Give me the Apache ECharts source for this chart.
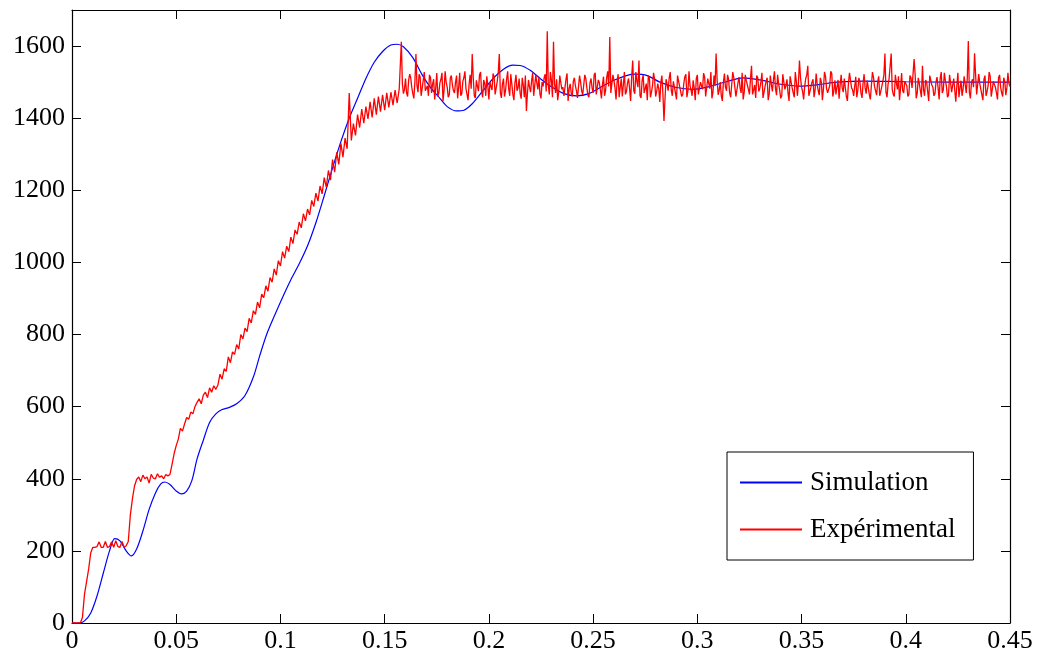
<!DOCTYPE html>
<html>
<head>
<meta charset="utf-8">
<script src="https://cdn.jsdelivr.net/npm/echarts@6/dist/echarts.min.js"></script>
<style>
html,body{margin:0;padding:0;background:#fff;}
#chart{width:1047px;height:658px;}
</style>
</head>
<body>
<div id="chart"></div>
<script>
// ---- Data ----
const xTicks = ['0','0.05','0.1','0.15','0.2','0.25','0.3','0.35','0.4','0.45'];
const yTicks = ['0','200','400','600','800','1000','1200','1400','1600'];

// Simulation (blue) : time [s] and speed
const simT = [0,0.0035,0.006,0.009,0.012,0.015,0.018,0.0205,0.023,0.026,0.0285,0.031,0.034,0.037,0.040,0.0425,0.0445,0.047,0.050,0.0525,0.055,0.0575,0.060,0.063,0.066,0.069,0.072,0.0755,0.079,0.083,0.087,0.090,0.0935,0.0975,0.101,0.105,0.109,0.113,0.117,0.121,0.125,0.129,0.133,0.137,0.141,0.145,0.149,0.153,0.156,0.159,0.1635,0.168,0.172,0.1765,0.180,0.1845,0.188,0.192,0.197,0.202,0.207,0.2115,0.215,0.220,0.225,0.230,0.236,0.242,0.248,0.254,0.260,0.266,0.270,0.276,0.282,0.290,0.298,0.306,0.315,0.322,0.330,0.340,0.349,0.358,0.367,0.380,0.400,0.420,0.450];
const simV = [0,0,6,28,75,138,200,234,228,200,186,205,255,315,360,385,391,384,366,358,366,395,455,507,556,580,592,598,608,631,682,740,802,857,903,952,996,1046,1110,1185,1262,1335,1400,1455,1510,1555,1585,1603,1605,1598,1568,1520,1485,1455,1432,1420,1422,1440,1475,1510,1536,1547,1546,1532,1508,1487,1468,1462,1468,1487,1505,1518,1522,1518,1500,1485,1480,1488,1503,1512,1506,1494,1489,1493,1500,1503,1501,1500,1500];

// Experimental (red) : sampled every 1 ms from t = 0
const expStart = 0;
const expStep = 0.001;
const expV = [
0,0,0,0,0,15,80,115,150,195,
210,210,212,225,210,210,226,210,212,225,
210,228,212,210,226,210,214,226,300,345,
380,398,405,392,410,400,405,388,412,402,
400,414,404,408,400,412,408,412,440,470,
492,510,540,532,552,570,565,585,580,600,
612,622,608,632,640,625,652,640,658,648,
660,690,676,705,698,738,722,752,745,772,
760,800,788,818,808,845,832,866,856,890,
874,912,902,935,920,958,945,982,965,1005,
990,1030,1012,1045,1030,1070,1052,1090,1078,1112,
1096,1135,1115,1148,1132,1172,1155,1192,1170,1212,
1190,1235,1208,1255,1228,1285,1250,1305,1272,1330,
1292,1345,1315,1470,1338,1385,1352,1410,1374,1425,
1386,1432,1398,1445,1402,1455,1410,1460,1418,1465,
1422,1470,1430,1472,1436,1478,1442,1482,1612,1468,
1510,1460,1522,1486,1455,1578,1472,1515,1458,1528,
1480,1462,1512,1495,1452,1525,1470,1508,1448,1530,
1486,1465,1518,1476,1500,1455,1526,1468,1512,1482,
1450,1520,1578,1462,1505,1475,1528,1458,1496,1516,
1452,1488,1524,1466,1502,1578,1456,1510,1478,1530,
1462,1495,1450,1520,1484,1468,1512,1458,1420,1506,
1472,1526,1460,1498,1515,1455,1488,1522,1641,1466,
1505,1612,1470,1450,1518,1480,1462,1508,1448,1495,
1460,1512,1476,1452,1500,1465,1520,1484,1458,1510,
1470,1526,1462,1498,1455,1515,1478,1530,1625,1466,
1505,1452,1522,1486,1460,1528,1474,1510,1448,1560,
1468,1502,1560,1456,1520,1482,1450,1512,1472,1526,
1460,1496,1445,1518,1392,1508,1476,1528,1462,1500,
1452,1522,1484,1466,1515,1458,1530,1478,1505,1450,
1520,1470,1496,1525,1460,1510,1482,1455,1518,1579,
1465,1500,1448,1524,1476,1508,1458,1528,1486,1462,
1514,1470,1452,1520,1492,1466,1545,1478,1456,1512,
1484,1526,1460,1502,1450,1518,1474,1530,1464,1496,
1455,1522,1480,1508,1448,1515,1470,1528,1462,1560,
1486,1452,1510,1545,1466,1500,1458,1524,1476,1512,
1450,1528,1482,1468,1530,1460,1505,1486,1454,1520,
1472,1512,1448,1526,1484,1462,1515,1478,1500,1456,
1522,1468,1508,1452,1528,1488,1464,1516,1474,1502,
1579,1458,1510,1579,1466,1520,1480,1450,1525,1470,
1506,1460,1518,1484,1564,1455,1512,1476,1545,1462,
1500,1448,1522,1486,1468,1514,1452,1528,1478,1504,
1458,1520,1472,1510,1446,1526,1484,1462,1516,1470,
1614,1455,1508,1580,1466,1522,1480,1450,1518,1474,
1528,1460,1502,1486,1452,1520,1470,1512,1464,1526,
1488
];

// Experimental (red) : extra half-millisecond samples from t = 0.1585 s onward
const expMidStartIndex = 158;
const expMid = [
1495,1480,1470,1505,1512,1468,1500,1490,1522,1462,
1505,1476,1490,1520,1470,1508,1484,1460,1498,1526,
1478,1500,1458,1512,1492,1470,1518,1486,1462,1502,
1530,1466,1494,1482,1512,1456,1488,1520,1474,1506,
1462,1490,1500,1478,1516,1484,1528,1470,1495,1460,
1508,1482,1522,1466,1498,1476,1510,1454,1492,1518,
1470,1486,1504,1462,1520,1480,1466,1500,1512,1474,
1490,1528,1458,1496,1508,1472,1516,1486,1460,1524,
1482,1470,1502,1490,1456,1518,1476,1492,1510,1464,
1498,1484,1520,1466,1506,1478,1494,1462,1512,1488,
1470,1520,1484,1500,1458,1510,1492,1466,1498,1482,
1515,1476,1528,1486,1462,1504,1470,1496,1518,1458,
1490,1508,1474,1482,1500,1466,1455,1494,1512,1478,
1502,1470,1518,1488,1460,1496,1522,1476,1490,1462,
1484,1510,1466,1500,1480,1514,1458,1496,1528,1472,
1490,1506,1478,1462,1500,1486,1520,1470,1494,1512,
1460,1498,1484,1526,1472,1504,1480,1510,1466,1492,
1518,1474,1500,1456,1488,1512,1468,1494,1506,1482,
1520,1478,1462,1500,1490,1470,1516,1484,1458,1502,
1496,1512,1474,1488,1520,1462,1486,1508,1478,1494,
1464,1500,1482,1516,1470,1490,1524,1476,1466,1506,
1492,1484,1510,1460,1498,1522,1478,1488,1458,1512,
1470,1496,1484,1504,1466,1490,1514,1476,1500,1462,
1488,1520,1472,1494,1508,1480,1460,1498,1516,1484,
1476,1502,1490,1466,1512,1486,1520,1470,1496,1458,
1480,1506,1474,1518,1492,1462,1500,1484,1510,1470,
1526,1488,1464,1498,1476,1514,1490,1458,1504,1482,
1494,1510,1472,1500,1486,1520,1466,1496,1478,1508,
1462,1490,1516,1480,1498,1470,1512,1486,1460,1502,
1484,1496
];

const seriesNames = ['Simulation', 'Expérimental'];
const seriesColors = ['#0000ff', '#ff0000'];

// ---- Build ----
const simData = simT.map((t, i) => [t, simV[i]]);
const expData = [];
expV.forEach((v, i) => {
  expData.push([+(expStart + i * expStep).toFixed(5), v]);
  const m = i - expMidStartIndex;
  if (m >= 0 && m < expMid.length) {
    expData.push([+(expStart + (i + 0.5) * expStep).toFixed(5), expMid[m]]);
  }
});

const FONT = 'Liberation Serif';
const axisCommon = {
  min: 0,
  axisLine: { show: true, onZero: false, lineStyle: { color: '#000', width: 1.2 } },
  axisTick: { show: true, inside: true, length: 9, lineStyle: { color: '#000', width: 1 } },
  splitLine: { show: false }
};

const chart = echarts.init(document.getElementById('chart'), null, { renderer: 'canvas' });
chart.setOption({
  animation: false,
  backgroundColor: '#fff',
  color: seriesColors,
  grid: { left: 72, right: 37, top: 10, bottom: 35, containLabel: false },
  legend: {
    data: seriesNames.map((n, i) => ({
      name: n,
      icon: 'path://M0,0H62V2H0Z',
      itemStyle: { color: seriesColors[i], borderWidth: 0, opacity: 1 }
    })),
    orient: 'vertical',
    left: 727,
    top: 452,
    backgroundColor: '#fff',
    borderColor: '#000',
    borderWidth: 1,
    padding: [17, 18, 17, 13],
    itemGap: 20,
    itemWidth: 62,
    itemHeight: 2,
    textStyle: { fontFamily: FONT, fontSize: 27, color: '#000', padding: [0, 0, 0, 3] }
  },
  xAxis: [
    Object.assign({}, axisCommon, {
      type: 'value', position: 'bottom', max: 0.45, interval: 0.05,
      axisLabel: { show: true, fontFamily: FONT, fontSize: 26, color: '#000', margin: 5,
        formatter: function (v) { const k = Math.round(v / 0.05); return xTicks[k] !== undefined ? xTicks[k] : ''; } }
    }),
    Object.assign({}, axisCommon, {
      type: 'value', position: 'top', max: 0.45, interval: 0.05,
      axisLabel: { show: false }
    })
  ],
  yAxis: [
    Object.assign({}, axisCommon, {
      type: 'value', position: 'left', max: 1700, interval: 200,
      axisLabel: { show: true, fontFamily: FONT, fontSize: 26, color: '#000', margin: 7, showMaxLabel: false,
        formatter: function (v) { const k = Math.round(v / 200); return yTicks[k] !== undefined ? yTicks[k] : ''; } }
    }),
    Object.assign({}, axisCommon, {
      type: 'value', position: 'right', max: 1700, interval: 200,
      axisLabel: { show: false }
    })
  ],
  series: [
    {
      name: seriesNames[0], type: 'line', xAxisIndex: 0, yAxisIndex: 0,
      data: simData, symbol: 'none', smooth: 0.3,
      lineStyle: { color: seriesColors[0], width: 1.2 }, itemStyle: { color: seriesColors[0] }, z: 2
    },
    {
      name: seriesNames[1], type: 'line', xAxisIndex: 0, yAxisIndex: 0,
      data: expData, symbol: 'none',
      lineStyle: { color: seriesColors[1], width: 1.3 }, itemStyle: { color: seriesColors[1] }, z: 3
    }
  ]
});
</script>
</body>
</html>
